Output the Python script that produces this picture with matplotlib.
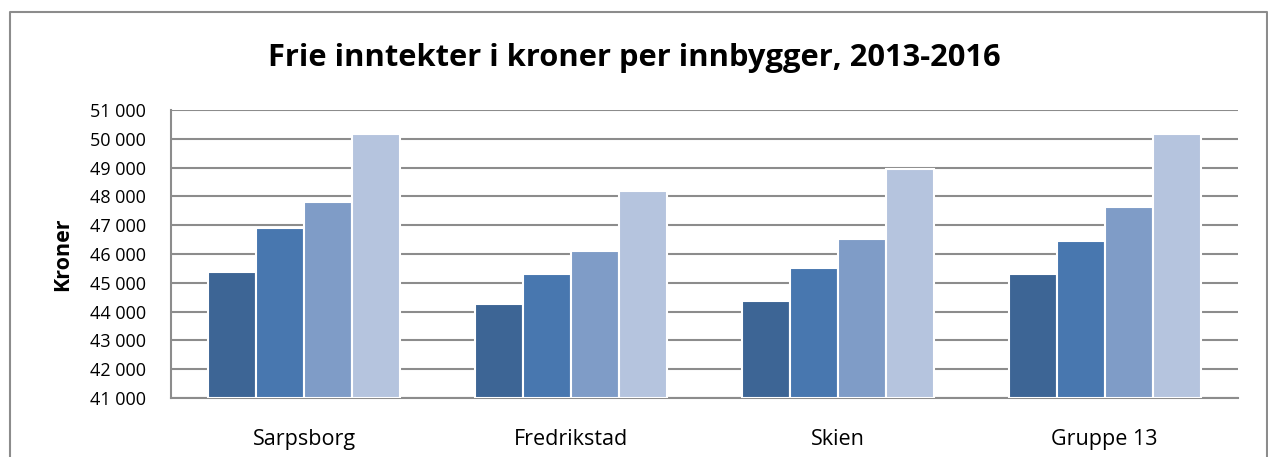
import numpy as np
import matplotlib.pyplot as plt
from matplotlib.lines import Line2D

kommuner = ['Sarpsborg', 'Fredrikstad', 'Skien', 'Gruppe 13']
aar = ['2013', '2014', '2015', '2016']
v2013 = [45370, 44270, 44360, 45290]
v2014 = [46900, 45310, 45510, 46460]
v2015 = [47820, 46100, 46520, 47640]
v2016 = [50170, 48190, 48950, 50150]
farger = ['#3d6595', '#4877af', '#7f9cc7', '#b5c4de']

plt.rcParams['font.family'] = ['Open Sans', 'DejaVu Sans']

fig = plt.figure(figsize=(12.68, 4.57), dpi=100)
fig.set_facecolor('white')
ax = fig.add_axes([171 / 1268, 1 - 398 / 457, (1238 - 171) / 1268, (398 - 110) / 457])

x = np.arange(len(kommuner))
bredde = 0.18
serier = [v2013, v2014, v2015, v2016]
for i, verdier in enumerate(serier):
    pos = x + (i - 1.5) * bredde
    ax.bar(pos, np.array(verdier) - 41000, bottom=41000, width=bredde,
           color=farger[i], edgecolor='white', linewidth=1.5, label=aar[i], zorder=3)

ax.set_xlim(-0.5, len(kommuner) - 0.5)
ax.set_ylim(41000, 51000)
ax.set_yticks(range(41000, 51001, 1000))
ax.set_yticklabels([f'{v:,}'.replace(',', ' ') for v in range(41000, 51001, 1000)], fontsize=13)
ax.set_xticks(x)
ax.set_xticklabels(kommuner, fontsize=15.5)
ax.tick_params(axis='both', length=0)
ax.tick_params(axis='y', pad=18)
ax.tick_params(axis='x', pad=22)
ax.grid(axis='y', color='#8c8c8c', linewidth=1.5, zorder=0)
for s in ['top', 'right']:
    ax.spines[s].set_visible(False)
ax.spines['left'].set_color('#8c8c8c')
ax.spines['bottom'].set_color('#8c8c8c')
ax.spines['left'].set_linewidth(1.5)
ax.spines['bottom'].set_linewidth(1.5)

ax.set_ylabel('Kroner', fontsize=15.5, fontweight='bold')
ax.yaxis.set_label_coords(-(171 - 73) / 1067, 0.5)
fig.text(0.5, 1 - 58 / 457, 'Frie inntekter i kroner per innbygger, 2013-2016',
         ha='center', va='center', fontsize=22.2, fontweight='bold')

# ramme rundt figuren
xl, xr, yt = 9.5 / 1268, 1266.5 / 1268, 1 - 12 / 457
fig.add_artist(Line2D([xl, xl, xr, xr], [0, yt, yt, 0], color='#8c8c8c',
                      linewidth=1.5, transform=fig.transFigure))

fig.savefig('out.png', dpi=100)
